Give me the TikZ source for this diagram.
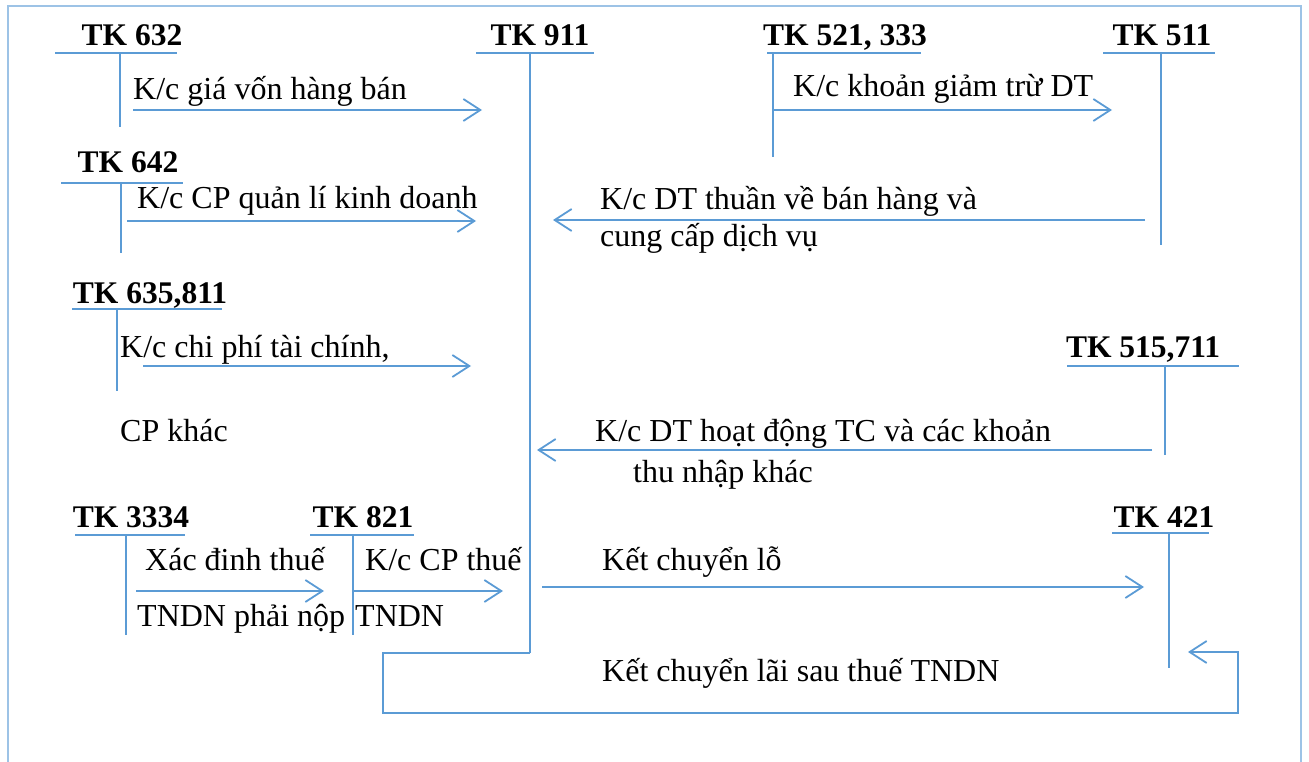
\documentclass[tikz,border=0pt]{standalone}
\usepackage{fontspec}
\setmainfont{Liberation Serif}
\usetikzlibrary{arrows.meta}
\definecolor{linkblue}{HTML}{5B9BD5}
\definecolor{framebl}{HTML}{9DC3E6}
\tikzset{
  acct/.style={font=\fontsize{31.5}{36}\selectfont\bfseries, inner sep=0pt, anchor=base},
  lbl/.style={font=\fontsize{32}{38}\selectfont, inner sep=0pt, anchor=base west},
  tline/.style={draw=linkblue, line width=1.6pt},
  flow/.style={draw=linkblue, line width=1.8pt, -{Straight Barb[length=17pt,width=22pt]}},
  frame/.style={draw=framebl, line width=2.2pt}
}
\begin{document}
\begin{tikzpicture}[x=1pt,y=-1pt]
\useasboundingbox (0,0) rectangle (1309,762);
% outer frame (open at the bottom)
\draw[frame] (8,762) -- (8,6) -- (1301,6) -- (1301,762);

% ---- T accounts ----
\node[acct] (t632) at (132,46) {TK 632};
\draw[tline] (55,53) -- (177,53) (120,53) -- (120,127);
\node[acct] (t911) at (540,46) {TK 911};
\draw[tline] (476,53) -- (594,53);
\coordinate (v911top) at (530,53);
\coordinate (v911bot) at (530,653);
\node[acct] (t521) at (845,46) {TK 521, 333};
\draw[tline] (767,53) -- (921,53) (773,53) -- (773,157);
\node[acct] (t511) at (1162,46) {TK 511};
\draw[tline] (1103,53) -- (1215,53) (1161,53) -- (1161,245);
\node[acct] (t642) at (128,173) {TK 642};
\draw[tline] (61,183) -- (183,183) (121,183) -- (121,253);
\node[acct] (t635) at (150,303) {TK 635,811};
\draw[tline] (72,309) -- (222,309) (117,309) -- (117,391);
\node[acct] (t515) at (1143,357) {TK 515,711};
\draw[tline] (1067,366) -- (1239,366) (1165,366) -- (1165,455);
\node[acct] (t3334) at (131,527) {TK 3334};
\draw[tline] (75,535) -- (185,535) (126,535) -- (126,635);
\node[acct] (t821) at (363,527) {TK 821};
\draw[tline] (310,535) -- (414,535) (353,535) -- (353,635);
\node[acct] (t421) at (1164,527) {TK 421};
\draw[tline] (1112,533) -- (1209,533) (1169,533) -- (1169,668);

% ---- transfers into TK 911 ----
\coordinate (a1s) at (133,110); \coordinate (a1e) at (482,110);
\draw[flow] (a1s) -- (a1e);
\node[lbl] (l1) at (133,100) {K/c giá vốn hàng bán};

\coordinate (a2s) at (127,221); \coordinate (a2e) at (476,221);
\draw[flow] (a2s) -- (a2e);
\node[lbl] (l2) at (137,208) {K/c CP quản lí kinh doanh};

\coordinate (a3s) at (143,366); \coordinate (a3e) at (471,366);
\draw[flow] (a3s) -- (a3e);
\node[lbl] (l3a) at (120,357) {K/c chi phí tài chính,};
\node[lbl] (l3b) at (120,441) {CP khác};

% ---- revenue side ----
\coordinate (a4s) at (773,110); \coordinate (a4e) at (1112,110);
\draw[flow] (a4s) -- (a4e);
\node[lbl] (l4) at (793,97) {K/c khoản giảm trừ DT};

\coordinate (a5s) at (1145,220); \coordinate (a5e) at (553,220);
\draw[flow] (a5s) -- (a5e);
\node[lbl] (l5a) at (600,210) {K/c DT thuần về bán hàng và};
\node[lbl] (l5b) at (600,247) {cung cấp dịch vụ};

\coordinate (a6s) at (1152,450); \coordinate (a6e) at (537,450);
\draw[flow] (a6s) -- (a6e);
\node[lbl] (l6a) at (595,441) {K/c DT hoạt động TC và các khoản};
\node[lbl] (l6b) at (633,482) {thu nhập khác};

% ---- income tax ----
\coordinate (a7s) at (136,591); \coordinate (a7e) at (324,591);
\draw[flow] (a7s) -- (a7e);
\node[lbl] (l7a) at (145,570) {Xác đinh thuế};
\node[lbl] (l7b) at (137,626) {TNDN phải nộp};

\coordinate (a8s) at (353,591); \coordinate (a8e) at (503,591);
\draw[flow] (a8s) -- (a8e);
\node[lbl] (l8a) at (365,570) {K/c CP thuế};
\node[lbl] (l8b) at (355,626) {TNDN};

% ---- result to TK 421 ----
\coordinate (a9s) at (542,587); \coordinate (a9e) at (1144,587);
\draw[flow] (a9s) -- (a9e);
\node[lbl] (l9) at (602,570) {Kết chuyển lỗ};

\draw[tline] (v911top) -- (v911bot);
\coordinate (a10e) at (1188,652);
\draw[flow] (v911bot) -- (383,653) -- (383,713) -- (1238,713) -- (1238,652) -- (a10e);
\node[lbl] (l10) at (602,681) {Kết chuyển lãi sau thuế TNDN};
\end{tikzpicture}
\end{document}
